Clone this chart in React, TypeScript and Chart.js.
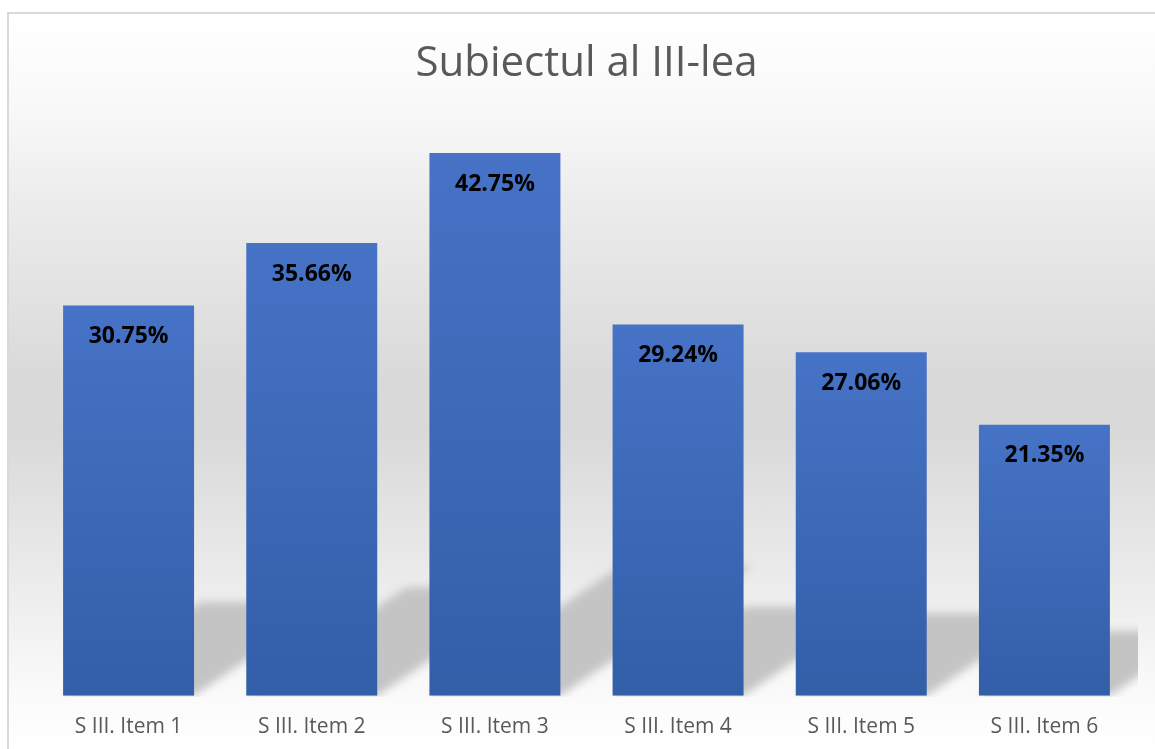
import React, { useEffect, useRef } from 'react';
import { Chart, registerables } from 'chart.js';

Chart.register(...registerables);

const TITLE = 'Subiectul al III-lea';
const categories = ['S III. Item 1', 'S III. Item 2', 'S III. Item 3', 'S III. Item 4', 'S III. Item 5', 'S III. Item 6'];
const values = [30.75, 35.66, 42.75, 29.24, 27.06, 21.35];
const valueLabels = ['30.75%', '35.66%', '42.75%', '29.24%', '27.06%', '21.35%'];
const Y_MIN = 0;
const Y_MAX = 45;

const FONT = "'Open Sans', 'Noto Sans', sans-serif";

export default function App() {
  const ref = useRef<HTMLCanvasElement>(null);

  useEffect(() => {
    if (!ref.current) return;

    const shadowPlugin = {
      id: 'barShadows',
      beforeDatasetsDraw(chart: any) {
        const meta = chart.getDatasetMeta(0);
        const ctx = chart.ctx as CanvasRenderingContext2D;
        const area = chart.chartArea;
        ctx.save();
        const base0 = chart.scales.y.getPixelForValue(0);
        ctx.beginPath();
        ctx.rect(0, 0, area.right + 2, base0 + 1);
        ctx.clip();
        ctx.filter = 'blur(4px)';
        ctx.fillStyle = '#C4C4C4';
        meta.data.forEach((bar: any) => {
          const { x, y, base, width } = bar.getProps(['x', 'y', 'base', 'width'], true);
          const x0 = x - width / 2;
          const x1 = x + width / 2;
          const h = base - y;
          const hs = 0.24 * h;
          const dx = hs / 0.68;
          ctx.beginPath();
          ctx.moveTo(x0, base);
          ctx.lineTo(x1, base);
          ctx.lineTo(x1 + dx, base - hs);
          ctx.lineTo(x0 + dx, base - hs);
          ctx.closePath();
          ctx.fill();
        });
        ctx.restore();
      },
    };

    const labelPlugin = {
      id: 'valueLabels',
      afterDatasetsDraw(chart: any) {
        const meta = chart.getDatasetMeta(0);
        const ctx = chart.ctx as CanvasRenderingContext2D;
        ctx.save();
        ctx.font = `bold 23px ${FONT}`;
        ctx.fillStyle = '#000000';
        ctx.textAlign = 'center';
        ctx.textBaseline = 'middle';
        meta.data.forEach((bar: any, i: number) => {
          const { x, y } = bar.getProps(['x', 'y'], true);
          ctx.fillText(valueLabels[i], x, y + 31);
        });
        ctx.restore();
      },
    };

    const chart = new Chart(ref.current, {
      type: 'bar',
      data: {
        labels: categories,
        datasets: [
          {
            data: values,
            backgroundColor: (c: any) => {
              const ch = c.chart;
              const { ctx, chartArea, scales } = ch;
              if (!chartArea || c.type !== 'data') return '#4472C4';
              const yTop = scales.y.getPixelForValue(c.raw);
              const yBot = scales.y.getPixelForValue(0);
              const g = ctx.createLinearGradient(0, yTop, 0, yBot);
              g.addColorStop(0, '#4673C6');
              g.addColorStop(1, '#335EA8');
              return g;
            },
            borderWidth: 0,
            barPercentage: 0.715,
            categoryPercentage: 1,
          },
        ],
      },
      options: {
        animation: false,
        responsive: true,
        maintainAspectRatio: false,
        events: [],
        layout: { padding: { left: 28, right: 19, top: 0, bottom: 0 } },
        plugins: {
          legend: { display: false },
          tooltip: { enabled: false },
          title: {
            display: true,
            text: TITLE,
            color: '#595959',
            font: { family: FONT, size: 42, weight: 'normal' },
            padding: { top: 25, bottom: 35.1 },
          },
        },
        scales: {
          x: {
            grid: { display: false, drawTicks: false },
            border: { display: false },
            ticks: {
              color: '#595959',
              font: { family: FONT, size: 21 },
              padding: 19,
              maxRotation: 0,
            },
          },
          y: {
            display: false,
            min: Y_MIN,
            max: Y_MAX,
          },
        },
      },
      plugins: [shadowPlugin, labelPlugin],
    });

    return () => chart.destroy();
  }, []);

  return (
    <div
      style={{
        position: 'absolute',
        left: 7,
        top: 12,
        width: 1148,
        height: 737,
        overflow: 'hidden',
        boxSizing: 'border-box',
        borderLeft: '2px solid #D9D9D9',
        borderTop: '2px solid #D9D9D9',
        background:
          'linear-gradient(to bottom, #FFFFFF 0px, #F9F9F9 88px, #ECECEC 188px, #D9D9D9 368px, #D9D9D9 418px, #EEEEEE 588px, #FAFAFA 678px, #FFFFFF 737px)',
      }}
    >
      <div style={{ position: 'relative', width: '100%', height: 745 }}>
        <canvas ref={ref} />
      </div>
    </div>
  );
}
